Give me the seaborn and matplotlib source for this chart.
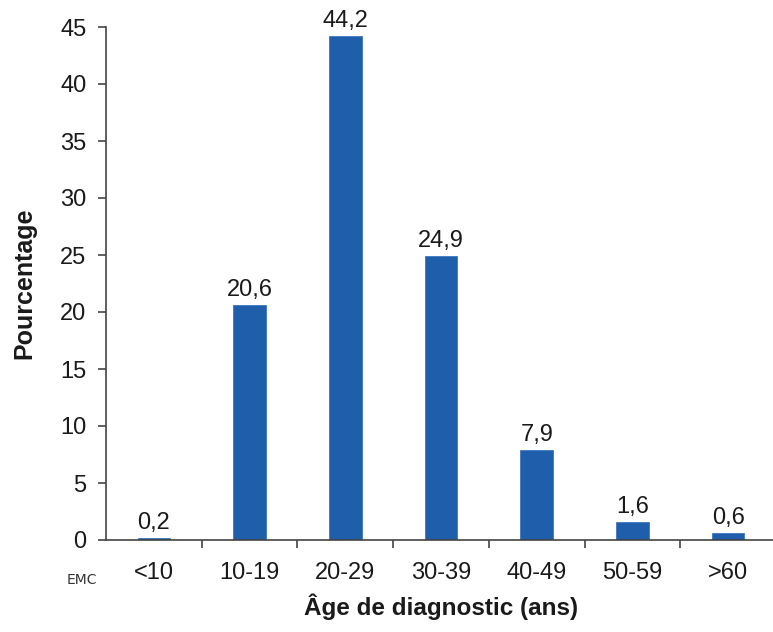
import matplotlib
matplotlib.use("Agg")
import matplotlib.pyplot as plt
import seaborn as sns
import pandas as pd
import numpy as np

categories = ["<10", "10-19", "20-29", "30-39", "40-49", "50-59", ">60"]
values = [0.2, 20.6, 44.2, 24.9, 7.9, 1.6, 0.6]
value_labels = ["0,2", "20,6", "44,2", "24,9", "7,9", "1,6", "0,6"]
yticks = [0, 5, 10, 15, 20, 25, 30, 35, 40, 45]

sns.set_theme(style="white")
plt.rcParams['font.family'] = ['Liberation Sans', 'DejaVu Sans']

FS = 17
W, H = 773, 632
fig = plt.figure(figsize=(W / 100, H / 100), dpi=100)
ax = fig.add_axes([106 / W, (H - 540) / H, 670 / W, 513 / H])

df = pd.DataFrame({"cat": categories, "val": values})
sns.barplot(data=df, x="cat", y="val", color="#1f5eab", saturation=1,
            width=0.34, ax=ax, edgecolor="#3d78c0", linewidth=0.6)

ax.set_xlim(-0.5, 6.5)
ax.set_ylim(0, 45)
ax.set_yticks(yticks)
ax.set_yticklabels([str(v) for v in yticks])

# category separators as major ticks, labels on minor ticks
ax.set_xticks(np.arange(0.5, 6.5, 1.0))
ax.set_xticklabels([])
ax.set_xticks(np.arange(len(categories)), minor=True)
ax.set_xticklabels(categories, minor=True)
ax.tick_params(axis="x", which="major", direction="out", length=6, width=1.2,
               color="#444444", bottom=True)
ax.tick_params(axis="x", which="minor", length=0, pad=16, labelsize=FS,
               labelcolor="#1a1a1a")
ax.tick_params(axis="y", direction="out", length=6, width=1.2, color="#444444",
               left=True, pad=8, labelsize=FS, labelcolor="#1a1a1a")

for s in ["top", "right"]:
    ax.spines[s].set_visible(False)
for s in ["left", "bottom"]:
    ax.spines[s].set_color("#444444")
    ax.spines[s].set_linewidth(1.2)

ax.bar_label(ax.containers[0], labels=value_labels, padding=3, fontsize=FS,
             color="#1a1a1a")

ax.set_xlabel("Âge de diagnostic (ans)", fontsize=17.5, fontweight="bold",
              labelpad=7, color="#1a1a1a")
ax.set_ylabel("Pourcentage", fontsize=18, fontweight="bold", labelpad=17,
              color="#1a1a1a")

fig.text(82 / W, 1 - 580 / H, "EMC", fontsize=10, color="#333333",
         ha="center", va="center", family="DejaVu Sans")

fig.savefig("out.png", dpi=100)
